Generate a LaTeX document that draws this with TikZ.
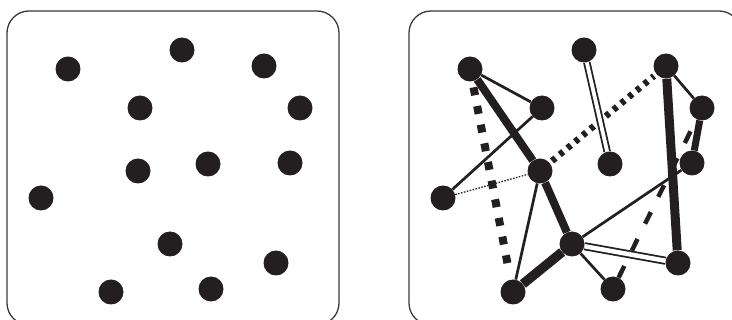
\documentclass[tikz,border=0pt]{standalone}
\usepackage{tikz}
\definecolor{dotblack}{RGB}{35,31,32}
\definecolor{framegrey}{RGB}{58,58,58}

\begin{document}
\begin{tikzpicture}[
  x=1pt, y=-1pt,
  dot/.style={circle, fill=dotblack, minimum size=25pt, inner sep=0pt},
  panel/.style={draw=framegrey, line width=1.3pt, rounded corners=22pt},
  thinln/.style={draw=dotblack, line width=2.7pt},
  thickln/.style={draw=dotblack, line width=8pt},
  sqdash/.style={draw=dotblack, line width=8pt, dash pattern=on 8pt off 11pt,
                 shorten <=6pt, shorten >=6pt},
  smdash/.style={draw=dotblack, line width=6.5pt, dash pattern=on 4.5pt off 5.5pt,
                 shorten <=3pt, shorten >=3pt},
  lgdash/.style={draw=dotblack, line width=4.5pt, dash pattern=on 13pt off 17pt},
  fineline/.style={draw=dotblack, line width=1.3pt, dash pattern=on 1.5pt off 1.5pt},
  dblln/.style={draw=dotblack, line width=1.8pt, double=white, double distance=#1},
  dblln/.default=3.8pt
]
  \clip (0,0) rectangle (732,320);
  % the two panels
  \draw[panel] (7,11) rectangle (339,325);
  \draw[panel] (409,11) rectangle (741,325);

  % same points, left alone and right linked
  \foreach \n/\x/\y in {a/68/69, b/140/108, c/182/50, d/264/66, e/300/108,
                        f/41/198, g/138/171, h/208/164, i/290/163, j/170/244,
                        k/276/263, l/111/292, m/211/289}
  {
    \node[dot] (l\n) at (\x,\y) {};
    \node[dot] (r\n) at (\x+402,\y) {};
  }

  \draw[thinln] (ra) -- (rb);
  \draw[thinln] (rb) -- (rf);
  \draw[thinln] (rd) -- (re);
  \draw[thinln] (rg) -- (rl);
  \draw[thinln] (rj) -- (ri);
  \draw[thinln] (rj) -- (rm);
  \draw[thickln] (ra) -- (rg);
  \draw[thickln] (rg) -- (rj);
  \draw[thickln, line width=9.5pt] (rj) -- (rl);
  \draw[thickln, line width=9pt] (rd) -- (rk);
  \draw[thickln, line width=7pt] (re) -- (ri);
  \draw[sqdash] (ra) -- (rl);
  \draw[smdash] (rg) -- (rd);
  \draw[lgdash] (rm) -- (re);
  \draw[fineline] (rf) -- (rg);
  \draw[dblln] (rc) -- (rh);
  \draw[dblln=4.5pt] (rj) -- (rk);
\end{tikzpicture}
\end{document}
